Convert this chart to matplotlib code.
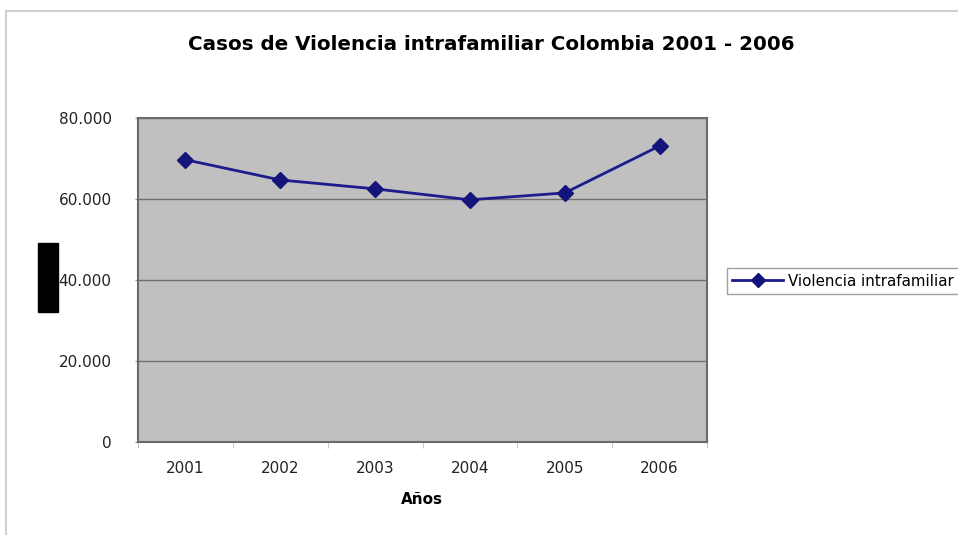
import matplotlib
matplotlib.use("Agg")
import matplotlib.pyplot as plt
from matplotlib.patches import Rectangle
from matplotlib.lines import Line2D
from matplotlib.ticker import FuncFormatter

years = ["2001", "2002", "2003", "2004", "2005", "2006"]
casos = [69700, 64700, 62500, 59800, 61500, 73100]
yticks = [0, 20000, 40000, 60000, 80000]

plt.rcParams['font.family'] = ['DejaVu Sans']

W, H = 958, 535
fig = plt.figure(figsize=(W/100, H/100), dpi=100)
fig.patch.set_facecolor('white')

# outer chart border (top and left visible)
fig.add_artist(Line2D([6/W, 6/W], [0, 1 - 11/H], transform=fig.transFigure, color='#d0d0d0', lw=1.5))
fig.add_artist(Line2D([6/W, 1], [1 - 11/H, 1 - 11/H], transform=fig.transFigure, color='#d0d0d0', lw=1.5))

left, right, top, bottom = 138, 707, 118, 442
ax = fig.add_axes([left/W, 1 - bottom/H, (right-left)/W, (bottom-top)/H])
ax.set_facecolor('#c0c0c0')
x = list(range(len(years)))
ax.plot(x, casos, color='#1c1c8c', lw=2, marker='D', markersize=8.5,
        markerfacecolor='#14147a', markeredgecolor='#14147a', label='Violencia intrafamiliar')
ax.set_xlim(-0.5, len(years) - 0.5)
ax.set_ylim(0, 80000)
ax.set_yticks(yticks)
ax.yaxis.set_major_formatter(FuncFormatter(lambda v, p: f"{int(v):,}".replace(",", ".")))
ax.set_xticks(x)
ax.set_xticklabels(years)
ax.set_xticks([i - 0.5 for i in range(len(years) + 1)], minor=True)
ax.tick_params(axis='x', which='major', length=0, pad=14, labelsize=11, colors='#222222')
ax.tick_params(axis='x', which='minor', length=4, color='#bbbbbb')
ax.tick_params(axis='y', length=2, color='#888888', labelsize=11, labelcolor='#222222', pad=17)
ax.grid(axis='y', color='#707070', lw=1)
ax.set_axisbelow(True)
for s in ax.spines.values():
    s.set_color('#6a6a6a')
    s.set_linewidth(1.5)

fig.text(491/W, 1 - 45/H, "Casos de Violencia intrafamiliar Colombia 2001 - 2006",
         ha='center', va='center', fontsize=14.3, fontweight='bold')
fig.text(422/W, 1 - 500/H, "Años", ha='center', va='center', fontsize=11, fontweight='bold')

# black box where the y-axis title was
fig.add_artist(Rectangle((38/W, 1 - 312/H), 20/W, 69/H, transform=fig.transFigure,
                         facecolor='black', edgecolor='black'))

leg = ax.legend(loc='center left', bbox_to_anchor=((727 - left)/(right - left), 1 - (281 - top)/(bottom - top)),
                frameon=True, fancybox=False, fontsize=10.8, handlelength=3.4, borderpad=0.35,
                handletextpad=0.3, borderaxespad=0)
leg.get_frame().set_edgecolor('#888888')
leg.get_frame().set_linewidth(1)
for h in leg.get_lines():
    h.set_markersize(7)

fig.savefig("out.png", dpi=100)
